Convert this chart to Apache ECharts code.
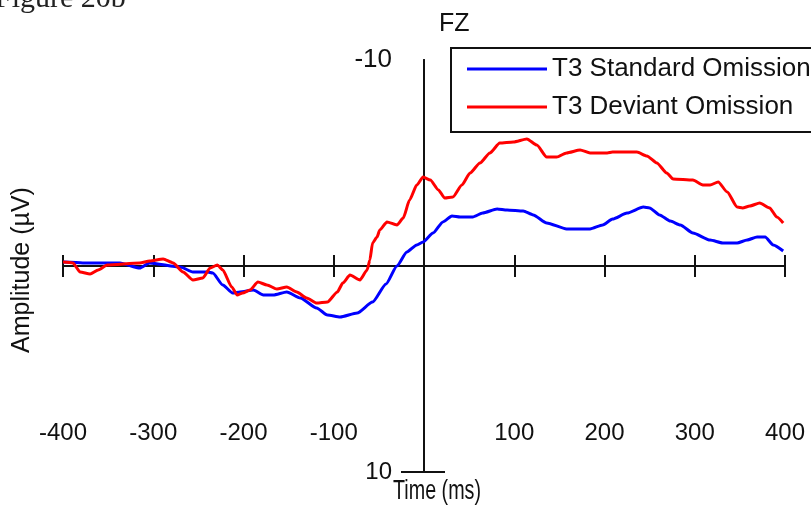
<!DOCTYPE html>
<html>
<head>
<meta charset="utf-8">
<script src="https://cdn.jsdelivr.net/npm/echarts@6/dist/echarts.min.js"></script>
<style>
  html, body { margin: 0; padding: 0; background: #fff; }
  #chart { width: 811px; height: 510px; }
</style>
</head>
<body>
<div id="chart"></div>
<script>
// ERP waveforms at electrode FZ, amplitude in microvolts (negative plotted upward)
const seriesNames = ['T3 Standard Omission', 'T3 Deviant Omission'];
const xTickValues = [-400, -300, -200, -100, 0, 100, 200, 300, 400];
const yTickValues = [-10, 10];

const standardTime = [-400, -378, -337, -315, -304, -270, -256, -240, -234, -223, -212, -204, -189, -178, -167, -152, -137, -119, -107, -93, -74, -57, -42, -30, -19, -8, -1, 10, 21, 31, 40, 54, 65, 81, 92, 110, 121, 136, 158, 184, 198, 209, 225, 243, 250, 261, 273, 284, 298, 317, 331, 347, 358, 369, 378, 387, 398];
const standardAmp = [-0.19, -0.15, -0.15, 0.10, -0.15, 0.05, 0.29, 0.29, 0.34, 0.92, 1.31, 1.26, 1.17, 1.41, 1.41, 1.26, 1.55, 2.04, 2.38, 2.48, 2.28, 1.75, 0.87, 0.00, -0.68, -1.02, -1.17, -1.60, -2.14, -2.43, -2.38, -2.38, -2.57, -2.77, -2.72, -2.67, -2.48, -2.09, -1.80, -1.80, -1.99, -2.28, -2.57, -2.86, -2.82, -2.48, -2.18, -1.99, -1.60, -1.26, -1.12, -1.12, -1.26, -1.41, -1.41, -1.02, -0.73];

const deviantTime = [-400, -389, -381, -370, -361, -351, -315, -304, -289, -278, -267, -256, -245, -237, -229, -223, -213, -207, -201, -193, -184, -174, -163, -152, -141, -130, -119, -107, -96, -90, -82, -71, -63, -60, -57, -52, -49, -41, -30, -23, -16, -8, -1, 7, 16, 23, 32, 42, 51, 62, 73, 84, 99, 114, 125, 136, 147, 158, 173, 184, 203, 209, 236, 247, 258, 269, 276, 298, 309, 317, 326, 336, 347, 353, 361, 372, 383, 391, 398];
const deviantAmp = [-0.19, -0.15, 0.29, 0.39, 0.19, -0.05, -0.15, -0.24, -0.34, -0.15, 0.29, 0.68, 0.58, 0.10, -0.05, 0.19, 1.02, 1.41, 1.31, 1.17, 0.78, 0.92, 1.12, 1.02, 1.26, 1.55, 1.80, 1.75, 1.26, 0.83, 0.44, 0.68, 0.19, -0.29, -1.12, -1.41, -1.75, -2.14, -1.99, -2.33, -3.20, -3.93, -4.32, -4.17, -3.69, -3.30, -3.35, -3.93, -4.51, -5.00, -5.49, -5.97, -6.02, -6.17, -5.87, -5.29, -5.29, -5.49, -5.63, -5.49, -5.49, -5.53, -5.53, -5.34, -5.00, -4.51, -4.22, -4.17, -3.93, -3.93, -4.08, -3.59, -2.86, -2.82, -2.91, -3.06, -2.82, -2.38, -2.09];

const SANS = "'Liberation Sans', Arial, Helvetica, sans-serif";
const SERIF = "'Liberation Serif', 'Times New Roman', serif";
const INK = '#111';

const pairs = (xs, ys) => xs.map((x, i) => [x, ys[i]]);

const chart = echarts.init(document.getElementById('chart'), null, { renderer: 'canvas' });

const axisLineStyle = { color: INK, width: 2 };

const option = {
  animation: false,
  backgroundColor: '#fff',
  grid: { left: 63, right: 26, top: 60, bottom: 38, containLabel: false, outerBoundsMode: 'none' },
  legend: {
    data: seriesNames,
    orient: 'vertical',
    left: 451,
    top: 48,
    padding: [6, 40, 10, 16],
    itemGap: 8,
    itemWidth: 80,
    itemHeight: 3,
    icon: 'rect',
    borderColor: INK,
    borderWidth: 2,
    textStyle: { fontSize: 26, lineHeight: 30, color: INK, fontFamily: SANS }
  },
  xAxis: [
    {
      type: 'value', min: -400, max: 400, interval: 100, position: 'bottom',
      axisLine: { show: true, onZero: true, onZeroAxisIndex: 0, lineStyle: axisLineStyle },
      axisTick: { show: true, inside: false, length: 11, lineStyle: axisLineStyle },
      axisLabel: {
        show: true, inside: true, margin: 27, fontSize: 24, color: INK, fontFamily: SANS,
        customValues: xTickValues.filter(v => v !== 0)
      },
      splitLine: { show: false }
    },
    {
      type: 'value', min: -400, max: 400, interval: 100, position: 'top',
      axisLine: { show: true, onZero: true, onZeroAxisIndex: 0, lineStyle: axisLineStyle },
      axisTick: { show: true, inside: false, length: 11, lineStyle: axisLineStyle },
      axisLabel: { show: false },
      splitLine: { show: false }
    }
  ],
  yAxis: [
    {
      type: 'value', min: -10, max: 10, interval: 10, inverse: true, position: 'left',
      axisLine: { show: true, onZero: true, onZeroAxisIndex: 0, lineStyle: axisLineStyle },
      axisTick: { show: true, inside: false, length: 23, customValues: [10], lineStyle: axisLineStyle },
      axisLabel: {
        show: true, inside: true, margin: 329, align: 'right', customValues: yTickValues,
        formatter: v => (v === -10 ? '{top|-10}' : '{bot|10}'),
        rich: {
          top: { fontSize: 26, color: INK, fontFamily: SANS },
          bot: { fontSize: 24, color: INK, fontFamily: SANS }
        }
      },
      splitLine: { show: false }
    },
    {
      type: 'value', min: -10, max: 10, interval: 10, inverse: true, position: 'right',
      axisLine: { show: true, onZero: true, onZeroAxisIndex: 0, lineStyle: axisLineStyle },
      axisTick: { show: true, inside: false, length: 21, customValues: [10], lineStyle: axisLineStyle },
      axisLabel: { show: false },
      splitLine: { show: false }
    }
  ],
  graphic: [
    {
      type: 'text', left: -5, top: -16, silent: true,
      style: { text: 'Figure 20b', fontSize: 30, fontFamily: SERIF, fill: '#222' }
    },
    {
      type: 'text', left: 439, top: 12, silent: true,
      style: { text: 'FZ', fontSize: 25, fontFamily: SANS, fill: INK }
    },
    {
      type: 'text', x: 22, y: 270, rotation: Math.PI / 2, silent: true,
      style: { text: 'Amplitude (µV)', fontSize: 25, fontFamily: SANS, fill: INK, align: 'center', verticalAlign: 'middle' }
    },
    {
      type: 'text', x: 437, y: 492, scaleX: 0.73, silent: true,
      style: { text: 'Time (ms)', fontSize: 27, fontFamily: SANS, fill: INK, align: 'center', verticalAlign: 'middle' }
    }
  ],
  series: [
    {
      name: seriesNames[0], type: 'line', xAxisIndex: 0, yAxisIndex: 0,
      data: pairs(standardTime, standardAmp),
      showSymbol: false, smooth: 0.2, smoothMonotone: 'x',
      lineStyle: { color: '#0000ff', width: 3 }, itemStyle: { color: '#0000ff' }, z: 3
    },
    {
      name: seriesNames[1], type: 'line', xAxisIndex: 0, yAxisIndex: 0,
      data: pairs(deviantTime, deviantAmp),
      showSymbol: false, smooth: 0.2, smoothMonotone: 'x',
      lineStyle: { color: '#ff0000', width: 3 }, itemStyle: { color: '#ff0000' }, z: 3
    }
  ]
};

chart.setOption(option);
</script>
</body>
</html>
